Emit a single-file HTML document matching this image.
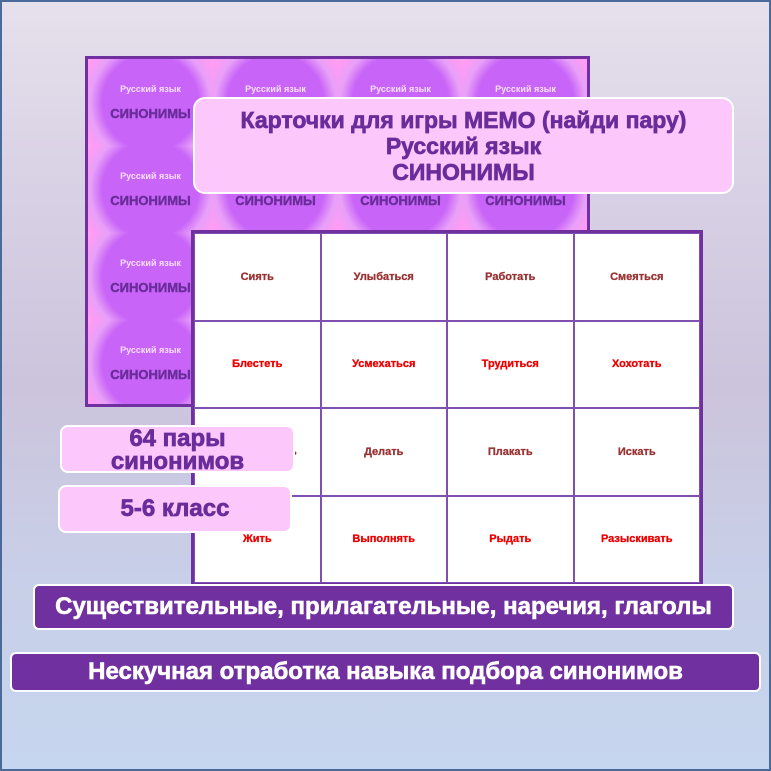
<!DOCTYPE html>
<html><head><meta charset="utf-8"><style>
*{margin:0;padding:0;box-sizing:border-box}
body{width:771px;height:771px;overflow:hidden;font-family:"Liberation Sans","DejaVu Sans",sans-serif;font-weight:bold}
#bg{position:absolute;left:0;top:0;width:771px;height:771px;border:2px solid #4a6a9a;background:linear-gradient(#e6e1ec 0%,#d8d0e4 25%,#ccc4dc 50%,#c8cfe8 75%,#c6d6ee 100%)}
#sheet{position:absolute;left:85px;top:56px;width:505px;height:351px;border:3px solid #7030a0;background:#f9a8f4;overflow:hidden}
.c{position:absolute;width:125px;height:87px;background:radial-gradient(circle at 50% 50%,#c864f8 0,#c864f8 48px,#e8a0f8 60px,#ff9cf4 72px,#f8c0f8 90px)}
.c .a{position:absolute;top:25px;width:100%;text-align:center;color:#f8e0ff;font-size:9px}
.c .b{position:absolute;top:47px;width:100%;text-align:center;color:#6a2c9a;font-size:13px;-webkit-text-stroke:0.4px #6a2c9a}
.box{position:absolute;background:#fcc8fc;border:2px solid #fff;border-radius:12px;color:#6a2c9a;text-align:center;-webkit-text-stroke:0.7px #6a2c9a}
#grid{position:absolute;left:191px;top:230px;width:512px;height:356px;border:3px solid #7030a0;background:#fff;display:grid;grid-template-columns:repeat(4,1fr);grid-template-rows:repeat(4,1fr)}
#grid div{border:1px solid #8050b0;display:flex;align-items:center;justify-content:center;font-size:11px;color:#993333;-webkit-text-stroke:0.3px currentColor}
#grid div.r{color:#ee0000}
.bar{position:absolute;background:#7030a0;border:2px solid #fff;border-radius:6px;color:#fff;text-align:center;font-size:24px;white-space:nowrap;-webkit-text-stroke:0.6px #fff}
</style></head><body>
<div id="bg"></div>
<div id="sheet">
<div class="c" style="left:0;top:0"><div class="a">Русский язык</div><div class="b">СИНОНИМЫ</div></div>
<div class="c" style="left:125px;top:0"><div class="a">Русский язык</div><div class="b">СИНОНИМЫ</div></div>
<div class="c" style="left:250px;top:0"><div class="a">Русский язык</div><div class="b">СИНОНИМЫ</div></div>
<div class="c" style="left:375px;top:0"><div class="a">Русский язык</div><div class="b">СИНОНИМЫ</div></div>
<div class="c" style="left:0;top:87px"><div class="a">Русский язык</div><div class="b">СИНОНИМЫ</div></div>
<div class="c" style="left:125px;top:87px"><div class="a">Русский язык</div><div class="b">СИНОНИМЫ</div></div>
<div class="c" style="left:250px;top:87px"><div class="a">Русский язык</div><div class="b">СИНОНИМЫ</div></div>
<div class="c" style="left:375px;top:87px"><div class="a">Русский язык</div><div class="b">СИНОНИМЫ</div></div>
<div class="c" style="left:0;top:174px"><div class="a">Русский язык</div><div class="b">СИНОНИМЫ</div></div>
<div class="c" style="left:125px;top:174px"></div>
<div class="c" style="left:250px;top:174px"></div>
<div class="c" style="left:375px;top:174px"></div>
<div class="c" style="left:0;top:261px"><div class="a">Русский язык</div><div class="b">СИНОНИМЫ</div></div>
<div class="c" style="left:125px;top:261px"></div>
<div class="c" style="left:250px;top:261px"></div>
<div class="c" style="left:375px;top:261px"></div>
</div>
<div class="box" style="left:193px;top:97px;width:541px;height:97px;font-size:23px;line-height:26px;padding-top:8px;white-space:nowrap">Карточки для игры МЕМО (найди пару)<br>Русский язык<br>СИНОНИМЫ</div>
<div id="grid">
<div>Сиять</div><div>Улыбаться</div><div>Работать</div><div>Смеяться</div>
<div class="r">Блестеть</div><div class="r">Усмехаться</div><div class="r">Трудиться</div><div class="r">Хохотать</div>
<div>Существовать</div><div>Делать</div><div>Плакать</div><div>Искать</div>
<div class="r">Жить</div><div class="r">Выполнять</div><div class="r">Рыдать</div><div class="r">Разыскивать</div>
</div>
<div class="box" style="left:60px;top:425px;width:235px;height:48px;border-radius:8px;font-size:24px;line-height:23px;padding-top:0px">64 пары<br>синонимов</div>
<div class="box" style="left:58px;top:485px;width:234px;height:48px;border-radius:8px;font-size:24px;line-height:44px">5-6 класс</div>
<div class="bar" style="left:33px;top:584px;width:701px;height:46px;line-height:42px">Существительные, прилагательные, наречия, глаголы</div>
<div class="bar" style="left:10px;top:652px;width:751px;height:40px;line-height:36px">Нескучная отработка навыка подбора синонимов</div>
</body></html>
